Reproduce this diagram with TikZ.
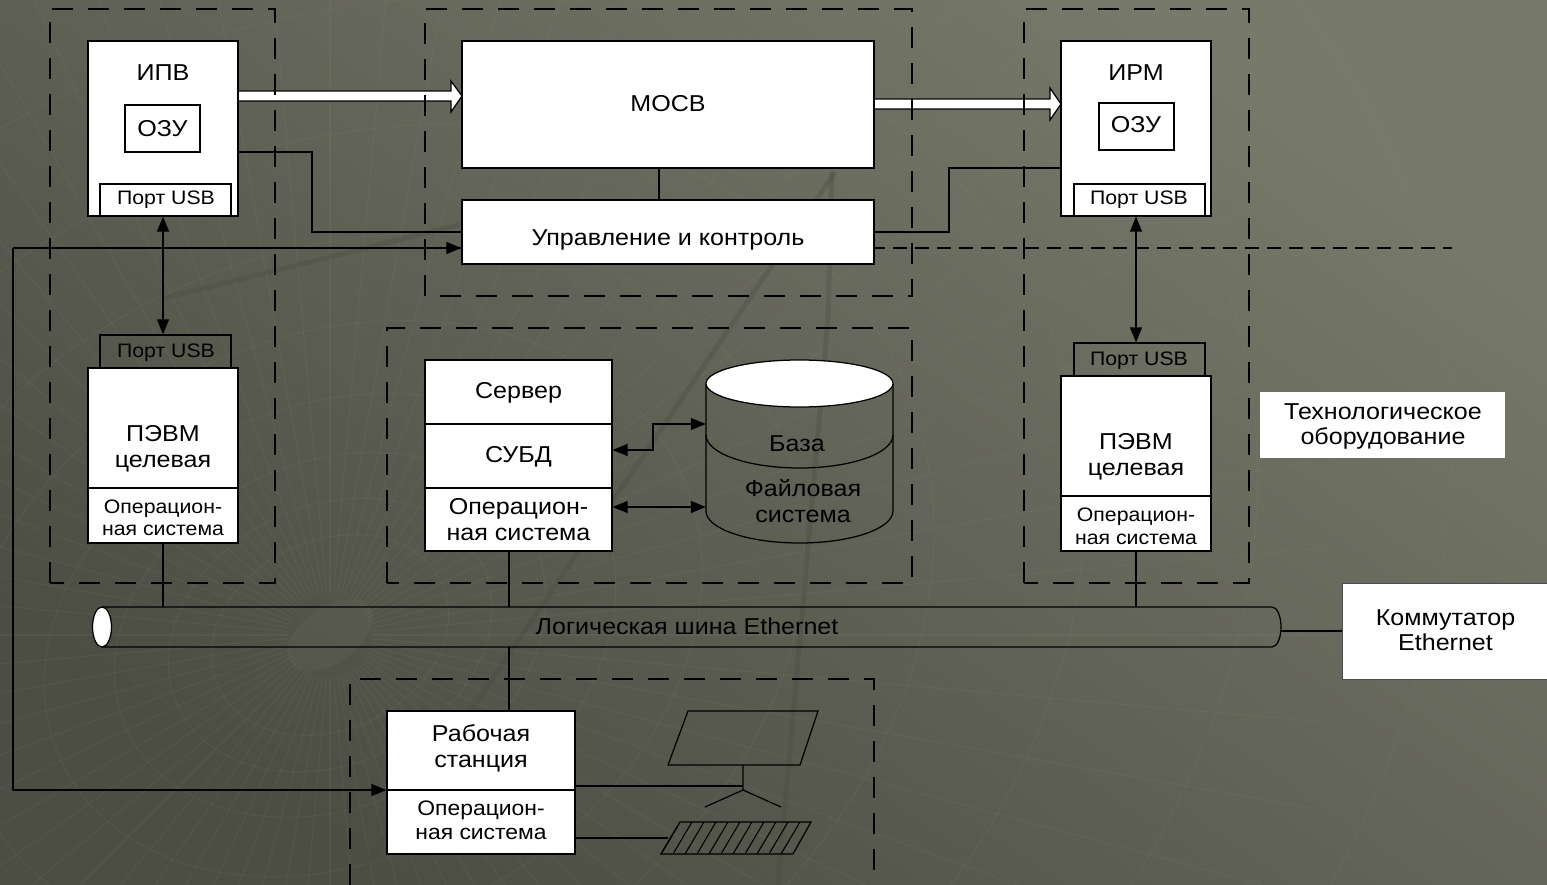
\documentclass[tikz,border=0pt]{standalone}
\usepackage{fontspec}
\setmainfont[FakeStretch=1.09]{Liberation Sans}
\usetikzlibrary{arrows.meta}
\definecolor{bgA}{HTML}{4C4D43}
\definecolor{bgB}{HTML}{77796A}
\definecolor{netc}{HTML}{8A8C7C}
\definecolor{netd}{HTML}{4A4B40}
\tikzset{
  lw/.style={line width=1.25pt,draw=black},
  boxw/.style={lw,fill=white,inner sep=0pt,align=center,text=black},
  boxo/.style={lw,inner sep=0pt,align=center,text=black},
  txt/.style={inner sep=0pt,align=center,text=black},
  big/.style={font=\fontsize{23}{25.5}\selectfont},
  small/.style={font=\fontsize{19.5}{22.5}\selectfont},
  wsf/.style={font=\fontsize{21}{24}\selectfont},
  grp/.style={line width=1.25pt,draw=black,dash pattern=on 21pt off 15pt},
  fine/.style={line width=1.25pt,draw=black,dash pattern=on 14pt off 8pt},
  link/.style={lw},
  tip/.style={lw,-{Stealth[length=15pt,width=12pt,inset=0pt]}},
  tips/.style={lw,{Stealth[length=15pt,width=12pt,inset=0pt]}-{Stealth[length=15pt,width=12pt,inset=0pt]}},
  fat/.style={lw,fill=white,line join=miter},
  ray/.style={draw=netc,line width=1.1pt,opacity=.13},
  heavy/.style={draw=netd,line width=5pt,opacity=.32}
}
\newcommand\bx[7]{\node[#1,minimum width={(#5-#3)*1pt},minimum height={(#6-#4)*1pt}] (#2) at ({(#3+#5)/2},{(#4+#6)/2}) {#7};}
\begin{document}
\begin{tikzpicture}[x=1pt,y=-1pt]
\useasboundingbox (0,0) rectangle (1547,885);
% background
\shade[shading=axis,left color=bgA,right color=bgB,shading angle=145] (0,0) rectangle (1547,885);
\begin{scope}
\clip (0,0) rectangle (1547,885);
\foreach \a in {0,5,...,355} {\draw[ray] (330,635) ++(\a:42) -- ++(\a:960);}
\foreach \r in {110,150,200,265,345,440,560,700,860,1040} {
  \draw[ray,rotate around={25:(330,635)}] (330,635) ellipse [x radius=\r*1.12,y radius=\r*0.86];}
\fill[netc,opacity=.10,rotate around={35:(330,635)}] (330,635) ellipse [x radius=48,y radius=28];
\draw[heavy] (165,298) -- (462,224);
\draw[heavy] (835,172) -- (353,885);
\draw[heavy] (832,172) -- (828,320) -- (778,885);
\end{scope}
% ends of the wide arrows
\coordinate (ipvE) at (238,0);
\coordinate (mosvW) at (462,0);
\coordinate (mosvE) at (874,0);
\coordinate (irmW) at (1061,0);
\draw[fat] (ipvE |- 0,91) -- (451,91) -- (451,81) -- (mosvW |- 0,96) -- (451,112) -- (451,101) -- (ipvE |- 0,101) -- cycle;
\draw[fat] (mosvE |- 0,99) -- (1050,99) -- (1050,88) -- (irmW |- 0,104) -- (1050,120) -- (1050,109) -- (mosvE |- 0,109) -- cycle;
% groups
\draw[fine] (343,248) -- (1452,248);
\draw[grp] (50,583) -- (50,9) -- (275,9) -- (275,583) -- cycle;
\draw[grp] (425,296) -- (425,9) -- (912,9) -- (912,296) -- cycle;
\draw[grp] (1024,583) -- (1024,9) -- (1249,9) -- (1249,583) -- cycle;
\draw[grp] (387,583) -- (387,328) -- (912,328) -- (912,583) -- cycle;
\draw[grp] (350,885) -- (350,679) -- (874,679) -- (874,885);
% boxes
\bx{boxw}{ipv}{88}{41}{238}{216}{}
\bx{boxw}{irm}{1061}{41}{1211}{216}{}
\bx{boxw}{mosv}{462}{41}{874}{168}{}
\bx{boxw}{upr}{462}{200}{874}{264}{}
\node[txt,big] (mosvt) at (668,104) {МОСВ};
\node[txt,big] (uprt) at (668,240) {Управление и контроль};
\node[txt,big] (ipvt) at (163,73) {ИПВ};
\node[txt,big] (irmt) at (1136,73) {ИРМ};
\bx{boxo,big}{ozua}{125}{105}{200}{152}{ОЗУ}
\bx{boxo}{ozub}{1099}{103}{1174}{150}{}
\node[txt,big] (ozubt) at (1136,125) {ОЗУ};
\bx{boxo}{usba}{100}{184}{231}{216}{}
\bx{boxo}{usbb}{1074}{184}{1205}{216}{}
\node[txt,small] (usbat) at (166,200) {Порт USB};
\node[txt,small] (usbbt) at (1139,200) {Порт USB};
% lower left PC
\bx{boxo}{usbc}{100}{335}{231}{368}{}
\node[txt,small] (usbct) at (166,353) {Порт USB};
\bx{boxw}{pca}{88}{368}{238}{488}{}
\node[txt,big] (pcat) at (163,449) {ПЭВМ\\целевая};
\bx{boxw}{osa}{88}{488}{238}{543}{}
\node[txt,small] (osat) at (163,518) {Операцион-\\ная система};
% lower right PC
\bx{boxo}{usbd}{1074}{343}{1205}{376}{}
\node[txt,small] (usbdt) at (1139,361) {Порт USB};
\bx{boxw}{pcb}{1061}{376}{1211}{496}{}
\node[txt,big] (pcbt) at (1136,457) {ПЭВМ\\целевая};
\bx{boxw}{osb}{1061}{496}{1211}{551}{}
\node[txt,small] (osbt) at (1136,526.5) {Операцион-\\ная система};
% server
\bx{boxw}{srv}{425}{360}{612}{424}{}
\node[txt,big] (srvt) at (518.5,393) {Сервер};
\bx{boxw}{dbms}{425}{424}{612}{488}{}
\node[txt,big] (dbmst) at (518.5,457) {СУБД};
\bx{boxw,big}{oss}{425}{488}{612}{551}{Операцион-\\ная система}
% database
\draw[lw] (706,384) -- (706,511) arc [start angle=180,end angle=0,x radius=93.5,y radius=32] -- (893,384);
\draw[lw] (706,435) arc [start angle=180,end angle=0,x radius=93.5,y radius=33];
\draw[lw,fill=white] (799.5,383.5) ellipse [x radius=93.5,y radius=23.5];
\node[inner sep=0pt,minimum width=187pt,minimum height=183pt] (db) at (799.5,451.5) {};
\node[txt,big] (dbt) at (797,444) {База};
\node[txt,big] (fst) at (803,501) {Файловая\\система};
% technology and switch
\bx{fill=white,inner sep=0pt,align=center,big}{tech}{1260}{392}{1505}{458}{}
\node[txt,big] (techt) at (1383,426.5) {Технологическое\\оборудование};
\bx{fill=white,draw=black!70,line width=.6pt,inner sep=0pt}{sw}{1342}{583}{1549}{679}{}
\node[txt,big] (swt) at (1445.5,630) {Коммутатор\\Ethernet};
% bus
\draw[lw] (102,607) -- (1272,607) arc [start angle=-90,end angle=90,x radius=9,y radius=20] -- (102,647);
\draw[lw,fill=white] (102,627) ellipse [x radius=9.5,y radius=20];
\node[inner sep=0pt,minimum width=1189pt,minimum height=40pt] (bus) at (686.5,627) {};
\node[txt,big] (bust) at (687,626) {Логическая шина Ethernet};
% workstation
\bx{boxw}{ws}{387}{711}{575}{790}{}
\node[txt,big] (wst) at (481,748.5) {Рабочая\\станция};
\bx{boxw}{wsos}{387}{790}{575}{854}{}
\node[txt,wsf] (wsost) at (481,820) {Операцион-\\ная система};
% monitor and keyboard
\draw[lw] (688,711) -- (818,711) -- (800,765) -- (668,765) -- cycle;
\coordinate (mon) at (743,765);
\coordinate (hub) at (743,790);
\coordinate (wsl) at (743,786);
\draw[lw] (mon) -- (hub) (705,807) -- (hub) -- (781,807);
\draw[lw] (680,822) -- (811,822) -- (793,854) -- (661,854) -- cycle;
\foreach \i in {0,...,10} {\draw[lw,line width=1.1pt] ({680+\i*12},822) -- ({661+\i*12},854);}
\coordinate (kbd) at (668,838);
% connectors
\draw[link] (ipv.east |- 0,152) -- (312,152) -- (312,232) -- (upr.west |- 0,232);
\draw[link] (mosv.south -| 659,0) -- (upr.north -| 659,0);
\draw[link] (upr.east |- 0,232) -- (949,232) -- (949,168) -- (irm.west |- 0,168);
\draw[tip] (13,248) -- (upr.west |- 0,248);
\draw[tip] (13,248) -- (13,790) -- (ws.west |- 0,790);
\draw[tips] (usba.south -| 163,0) -- (usbc.north -| 163,0);
\draw[tips] (usbb.south -| 1136,0) -- (usbd.north -| 1136,0);
\draw[link] (osa.south -| 163,0) -- (bus.north -| 163,0);
\draw[link] (oss.south -| 509,0) -- (bus.north -| 509,0);
\draw[link] (osb.south -| 1136,0) -- (bus.north -| 1136,0);
\draw[link] (bus.south -| 509,0) -- (ws.north -| 509,0);
\draw[link] (1281,631) -- (sw.west |- 0,631);
\draw[tips] (dbms.east |- 0,450) -- (653,450) -- (653,424) -- (db.west |- 0,424);
\draw[tips] (oss.east |- 0,507) -- (db.west |- 0,507);
\draw[link] (ws.east |- wsl) -- (wsl);
\draw[link] (wsos.east |- kbd) -- (kbd);
\end{tikzpicture}
\end{document}
